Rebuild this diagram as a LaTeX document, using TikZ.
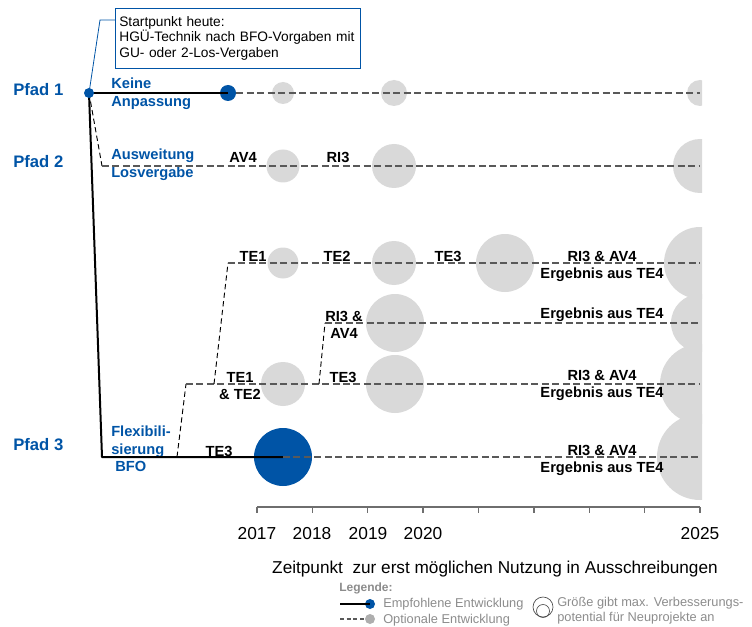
\documentclass[tikz,border=0pt]{standalone}
\usepackage{fontspec}
\setmainfont{Liberation Sans}
\definecolor{pfadblue}{RGB}{0,84,166}
\definecolor{bubgray}{RGB}{217,217,217}
\definecolor{leggray}{RGB}{140,140,140}
\definecolor{axisgray}{RGB}{110,110,110}

\begin{document}
\begin{tikzpicture}[x=0.75pt, y=-0.75pt,
    pfad/.style={anchor=west, text=pfadblue, inner sep=0pt, font=\fontsize{12.5pt}{14pt}\selectfont\bfseries},
    pfadlbl/.style={anchor=west, align=left, text=pfadblue, inner sep=0pt, font=\fontsize{11pt}{13.3pt}\selectfont\bfseries},
    tlbl/.style={align=center, inner sep=0pt, font=\fontsize{11pt}{13pt}\selectfont\bfseries},
    bub/.style={circle, fill=bubgray, inner sep=0pt, minimum size=#1*1.5pt},
    bluebub/.style={circle, fill=pfadblue, inner sep=0pt, minimum size=#1*1.5pt},
    empf/.style={line width=1.5pt, black, line join=round},
    opt/.style={line width=0.9pt, black!65, dash pattern=on 5.25pt off 2.6pt},
    branch/.style={line width=0.7pt, black, dash pattern=on 4pt off 2.5pt},
    year/.style={inner sep=0pt, font=\fontsize{13pt}{15pt}\selectfont},
    legtxt/.style={anchor=west, align=left, inner sep=0pt, text=leggray, font=\fontsize{9.6pt}{11.5pt}\selectfont}]

    \useasboundingbox (0,0) rectangle (752,627);

    % Callout for the starting point
    \node[draw=pfadblue, line width=0.6pt, align=left, text width=178pt, inner xsep=3pt,
          minimum height=45pt, font=\fontsize{10.3pt}{11.6pt}\selectfont] (callout) at (238,38)
        {Startpunkt heute:\\HGÜ-Technik nach BFO-Vorgaben mit\\GU- oder 2-Los-Vergaben};

    % Path labels
    \node[pfad] (pfad1) at (13,90) {Pfad 1};
    \node[pfad] (pfad2) at (13,162) {Pfad 2};
    \node[pfad] (pfad3) at (13,445) {Pfad 3};
    \node[pfadlbl] (keine) at (111,93.5) {Keine\\Anpassung};
    \node[pfadlbl] (ausw) at (111,165) {Ausweitung\\Losvergabe};
    \node[pfadlbl] (flex) at (111,449) {Flexibili-\\sierung\\\hspace{3pt}BFO};

    % Bubbles, size = potential
    \node[bub=11] (r1a) at (283,93) {};
    \node[bub=13] (r1b) at (394,93) {};
    \node[bub=16.5] (r2a) at (283,166) {};
    \node[bub=22] (r2b) at (394,166) {};
    \node[bub=15.5] (r3a) at (283,263) {};
    \node[bub=22] (r3b) at (394,263) {};
    \node[bub=29] (r3c) at (505,263) {};
    \node[bub=29] (r4a) at (395,323) {};
    \node[bub=22] (r5a) at (283,384) {};
    \node[bub=29] (r5b) at (395,384) {};
    \node[bluebub=29] (r6a) at (283,457) {};

    % Bubbles in 2025, cut at the right edge
    \begin{scope}
        \clip (0,0) rectangle (702,627);
        \node[bub=13] (r1z) at (700,93) {};
        \node[bub=27] (r2z) at (700,166) {};
        \node[bub=36] (r3z) at (700,263) {};
        \node[bub=29] (r4z) at (700,323) {};
        \node[bub=40] (r5z) at (700,384) {};
        \node[bub=43] (r6z) at (700,457) {};
    \end{scope}

    % Branch points
    \coordinate (start) at (89,93);
    \coordinate (knee2) at (102,166);
    \coordinate (knee3) at (102,457);
    \coordinate (a1) at (177,457);
    \coordinate (a2) at (186,384);
    \coordinate (b1) at (214,384);
    \coordinate (b2) at (228,263);
    \coordinate (c1) at (319,384);
    \coordinate (c2) at (325,323);
    \coordinate (end1) at (700,93);
    \coordinate (end2) at (700,166);
    \coordinate (end3) at (700,263);
    \coordinate (end4) at (700,323);
    \coordinate (end5) at (700,384);
    \coordinate (end6) at (700,457);

    % Pfad 1
    \node[bluebub=8] (dot1) at (228,93) {};
    \draw[empf] (start) -- (dot1.center);
    \draw[opt] (dot1.east) -- (end1);

    % Pfad 2
    \draw[branch] (start) -- (knee2);
    \draw[opt] (knee2) -- (end2);

    % Pfad 3 and its options
    \draw[empf] (start) -- (knee3) -- (r6a.center);
    \draw[opt] (r6a.center) -- (end6);
    \draw[branch] (a1) -- (a2);
    \draw[opt] (a2) -- (end5);
    \draw[branch] (b1) -- (b2);
    \draw[opt] (b2) -- (end3);
    \draw[branch] (c1) -- (c2);
    \draw[opt] (c2) -- (end4);

    % Start dot and leader to the callout
    \node[bluebub=5] (dot0) at (start) {};
    \draw[pfadblue, line width=0.6pt] (dot0.center) -- (100,20) -- (callout.north west |- 100,20);

    % Step labels
    \node[tlbl] (av4) at (243,157) {AV4};
    \node[tlbl] (ri3) at (338,157) {RI3};
    \node[tlbl] (te1a) at (253,256) {TE1};
    \node[tlbl] (te2a) at (337,256) {TE2};
    \node[tlbl] (te3a) at (448,256) {TE3};
    \node[tlbl] (ri3av4) at (344,325) {RI3 \&\\AV4};
    \node[tlbl] (te12) at (240,386) {TE1\\\& TE2};
    \node[tlbl] (te3b) at (343,377) {TE3};
    \node[tlbl] (te3c) at (219,451) {TE3};
    \node[tlbl] (res3) at (602,266.5) {RI3 \& AV4\\Ergebnis aus TE4};
    \node[tlbl] (res4) at (602,315) {Ergebnis aus TE4};
    \node[tlbl] (res5) at (602,385.5) {RI3 \& AV4\\Ergebnis aus TE4};
    \node[tlbl] (res6) at (602,460.5) {RI3 \& AV4\\Ergebnis aus TE4};

    % Time axis
    \draw[axisgray, line width=1pt] (257,507) -- (700,507);
    \foreach \k in {0,...,8}
        \draw[axisgray, line width=1pt] (257+55.375*\k,507) -- (257+55.375*\k,513);
    \node[year] (y2017) at (257,534) {2017};
    \node[year] (y2018) at (312,534) {2018};
    \node[year] (y2019) at (368,534) {2019};
    \node[year] (y2020) at (423,534) {2020};
    \node[year] (y2025) at (700,534) {2025};
    \node[year, font=\fontsize{12.9pt}{15pt}\selectfont] (axtitle) at (495,569)
        {Zeitpunkt \ zur erst möglichen Nutzung in Ausschreibungen};

    % Legend
    \node[legtxt, font=\fontsize{9pt}{11pt}\selectfont\bfseries] (legende) at (339,588) {Legende:};
    \node[bluebub=5] (legdot1) at (370,604) {};
    \node[circle, fill=bubgray!80!black, inner sep=0pt, minimum size=7.5pt] (legdot2) at (370,619) {};
    \coordinate (legl1) at (340,604);
    \coordinate (legl2) at (340,619);
    \draw[empf, line width=1.2pt] (legl1) -- (legdot1.center);
    \draw[opt, line width=0.8pt, dash pattern=on 3pt off 2pt] (legl2) -- (legdot2.west);
    \node[legtxt] (leg1) at (383,604) {Empfohlene Entwicklung};
    \node[legtxt] (leg2) at (383,620) {Optionale Entwicklung};
    \draw[black!70, line width=0.5pt] (543,607) circle (10);
    \draw[black!70, line width=0.5pt] (543,611) circle (6.5);
    \node[legtxt] (leg3) at (557,611) {Größe gibt max. Verbesserungs-\\potential für Neuprojekte an};
\end{tikzpicture}
\end{document}
